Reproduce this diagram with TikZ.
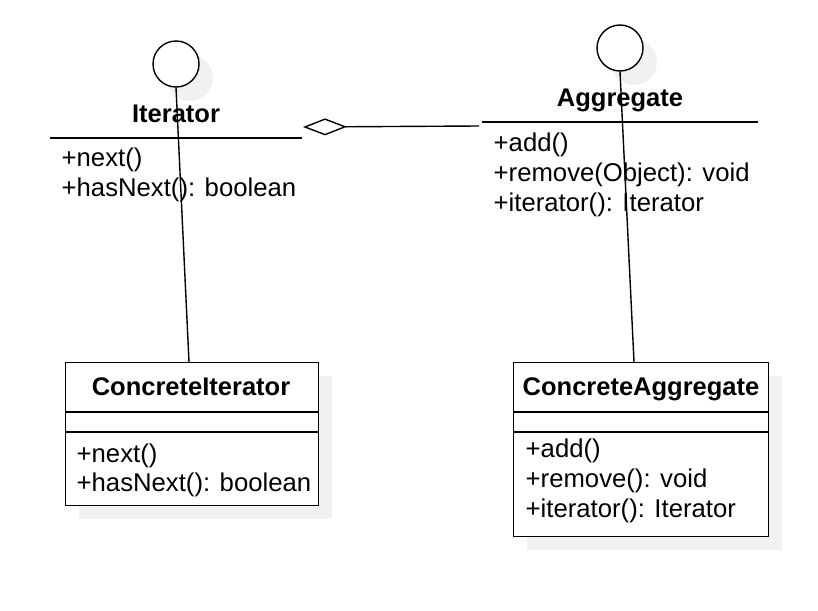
\documentclass[tikz,border=0pt]{standalone}
\usepackage{fontspec}
\setmainfont{Liberation Sans}
\usetikzlibrary{arrows.meta}

\definecolor{shadowgray}{RGB}{241,241,241}
\tikzset{
  txt/.style={font=\fontsize{25.7}{30}\selectfont, inner sep=0pt},
  member/.style={txt, anchor=base west},
  title/.style={txt, anchor=base, font=\fontsize{25.5}{30}\selectfont\bfseries},
  lollipop/.style={circle, draw, fill=white, minimum size=46pt, inner sep=0pt},
  classbox/.style={draw, fill=white, anchor=north west, inner sep=0pt}
}

\begin{document}
\begin{tikzpicture}[x=1pt,y=-1pt,line width=1.4pt]
        \useasboundingbox (0,0) rectangle (818,610);
        % shadows
        \fill[shadowgray] (190,78) circle (23);
        \fill[shadowgray] (634,62) circle (23);
        \fill[shadowgray] (79,376) rectangle (332,519);
        \fill[shadowgray] (527,376) rectangle (782,550);
        % interface Iterator
        \node[lollipop] (itf) at (176,64) {};
        \node[title] (itname) at (176,122) {Iterator};
        \draw (50,138) -- (302,138);
        \node[member] (itm1) at (61,166) {+next()};
        \node[member] (itm2) at (61,196) {+hasNext(): boolean};
        % interface Aggregate
        \node[lollipop] (agf) at (620,48) {};
        \node[title] (agname) at (620,106) {Aggregate};
        \draw (482,122) -- (758,122);
        \node[member] (agm1) at (493,151) {+add()};
        \node[member] (agm2) at (493,181) {+remove(Object): void};
        \node[member] (agm3) at (493,211) {+iterator(): Iterator};
        % class ConcreteIterator
        \node[classbox, minimum width=253pt, minimum height=143pt] (ci) at (65,362) {};
        \draw (ci.west |- 0,412) -- (ci.east |- 0,412);
        \draw (ci.west |- 0,432) -- (ci.east |- 0,432);
        \node[title] (ciname) at (191,395) {ConcreteIterator};
        \node[member] (cim1) at (76,462) {+next()};
        \node[member] (cim2) at (76,491) {+hasNext(): boolean};
        % class ConcreteAggregate
        \node[classbox, minimum width=255pt, minimum height=174pt] (ca) at (513,362) {};
        \draw (ca.west |- 0,412) -- (ca.east |- 0,412);
        \draw (ca.west |- 0,432) -- (ca.east |- 0,432);
        \node[title] (caname) at (641,395) {ConcreteAggregate};
        \node[member] (cam1) at (525,457) {+add()};
        \node[member] (cam2) at (525,487) {+remove(): void};
        \node[member] (cam3) at (525,517) {+iterator(): Iterator};
        % connectors
        \coordinate (ciTop) at (189,362);
        \coordinate (caTop) at (634,362);
        \coordinate (aggEnd) at (479,126);
        \coordinate (itSide) at (303,127);
        \draw (itf.south) -- (ciTop);
        \draw (agf.south) -- (caTop);
        \draw [ -{Diamond[open,length=44pt,width=17pt]} ] (aggEnd) -- (itSide);
    \end{tikzpicture}
\end{document}
